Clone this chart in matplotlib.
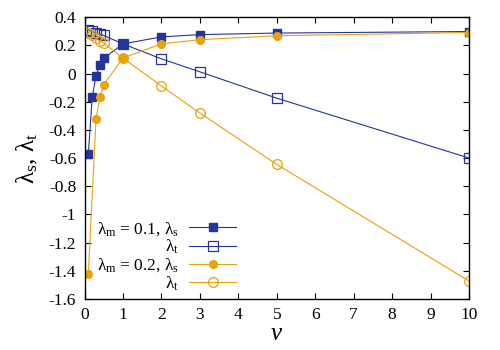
import numpy as np
import matplotlib.pyplot as plt

plt.rcParams['font.family'] = ['Liberation Serif', 'DejaVu Serif']
plt.rcParams['mathtext.fontset'] = 'custom'
plt.rcParams['mathtext.rm'] = 'Liberation Serif'
plt.rcParams['mathtext.it'] = 'Liberation Serif:italic'
plt.rcParams['axes.unicode_minus'] = False

# данные
nu_s1 = [0.1, 0.2, 0.3, 0.4, 0.5, 1, 2, 3, 5, 10]
ls_1 = [-0.57, -0.17, -0.015, 0.062, 0.108, 0.21, 0.26, 0.276, 0.287, 0.298]
nu_t1 = [0.1, 0.2, 0.3, 0.4, 0.5, 1, 2, 3, 5, 10]
lt_1 = [0.31, 0.30, 0.29, 0.28, 0.27, 0.21, 0.104, 0.012, -0.175, -0.60]

nu_s2 = [0.1, 0.3, 0.4, 0.5, 1, 2, 3, 5, 10]
ls_2 = [-1.42, -0.32, -0.17, -0.08, 0.11, 0.21, 0.24, 0.268, 0.291]
nu_t2 = [0.1, 0.2, 0.3, 0.4, 0.5, 1, 2, 3, 5, 10]
lt_2 = [0.29, 0.27, 0.25, 0.23, 0.215, 0.11, -0.089, -0.28, -0.645, -1.473]

y_ticks = [-1.6, -1.4, -1.2, -1.0, -0.8, -0.6, -0.4, -0.2, 0.0, 0.2, 0.4]

labels = [r'$\mathrm{λ}_\mathrm{m}$ = 0.1, $\mathrm{λ}_\mathrm{s}$',
          r'$\mathrm{λ}_\mathrm{t}$',
          r'$\mathrm{λ}_\mathrm{m}$ = 0.2, $\mathrm{λ}_\mathrm{s}$',
          r'$\mathrm{λ}_\mathrm{t}$']

blue = '#23349a'
orange = '#e8a20a'

fig = plt.figure(figsize=(5, 3.5), dpi=100)
ax = fig.add_axes([0.169, 0.146, 0.769, 0.805])

ax.plot(nu_s1, ls_1, '-s', color=blue, lw=0.8, ms=5.5, label=labels[0])
ax.plot(nu_t1, lt_1, '-s', color=blue, lw=0.8, ms=6.5, mfc='none', mew=0.9, label=labels[1])
ax.plot(nu_s2, ls_2, '-o', color=orange, lw=0.8, ms=5.5, label=labels[2])
ax.plot(nu_t2, lt_2, '-o', color=orange, lw=0.8, ms=7, mfc='none', mew=0.9, label=labels[3])

ax.set_xlim(0, 10)
ax.set_ylim(-1.6, 0.4)
ax.set_xticks(np.arange(0, 11, 1))
ax.set_yticks(y_ticks)
ax.set_yticklabels(['%g' % v for v in y_ticks])
ax.tick_params(direction='in', length=4, width=0.8, top=True, right=True,
               labelsize=12.5, pad=6)
for s in ax.spines.values():
    s.set_linewidth(1.0)

ax.set_xlabel(r'$\nu$', fontsize=18, labelpad=0)
ax.set_ylabel(r'$\mathrm{λ}_\mathrm{s}$, $\mathrm{λ}_\mathrm{t}$', fontsize=18, labelpad=6)

ax.legend(loc='center right', bbox_to_anchor=(0.394, 0.151), markerfirst=False,
          frameon=False, fontsize=12.5, numpoints=1, handlelength=2.7,
          handletextpad=0.6, labelspacing=0.0, borderpad=0, borderaxespad=0)

plt.savefig('out.png', dpi=100)
